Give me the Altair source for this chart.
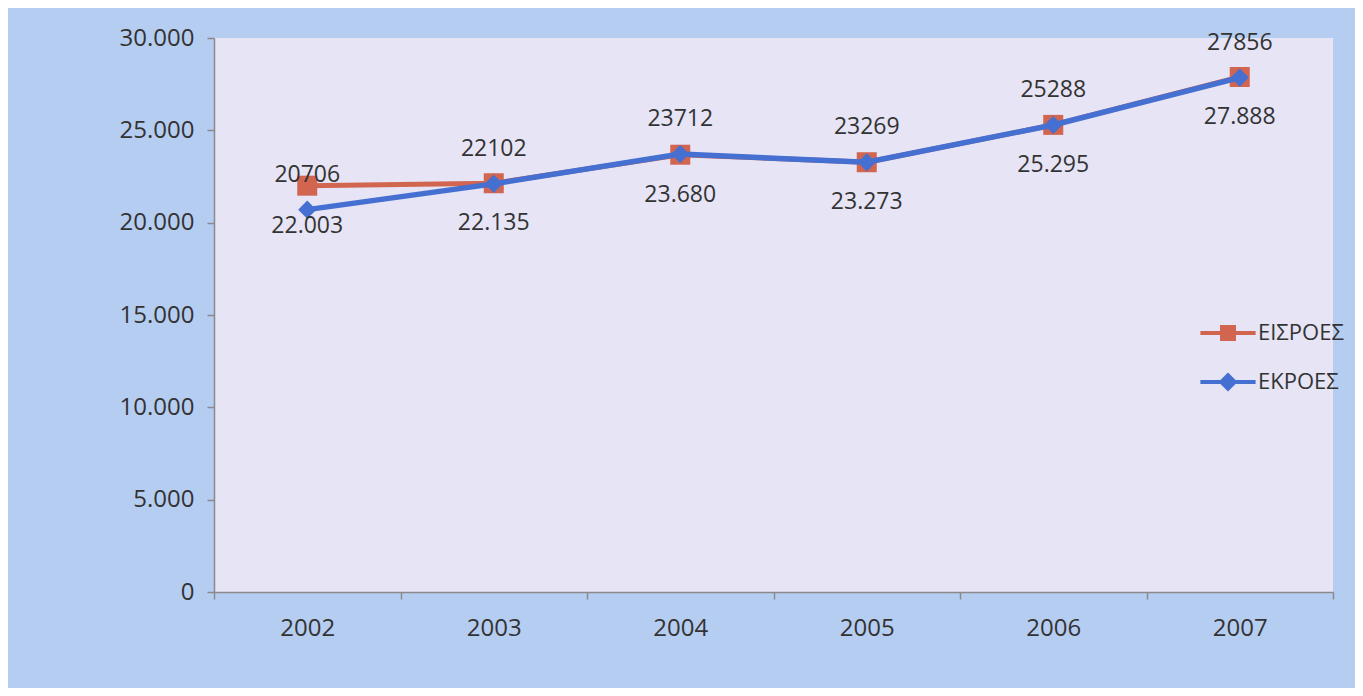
import altair as alt
import pandas as pd

years = ["2002", "2003", "2004", "2005", "2006", "2007"]
series_names = ["ΕΙΣΡΟΕΣ", "ΕΚΡΟΕΣ"]
eisroes = [22003, 22135, 23680, 23273, 25295, 27888]
ekroes = [20706, 22102, 23712, 23269, 25288, 27856]
y_ticks = [0, 5000, 10000, 15000, 20000, 25000, 30000]

RED = "#d2654f"
BLUE = "#4570d2"
FONT = "Open Sans"
TXT = "#333333"

rows = []
for y, a, b in zip(years, eisroes, ekroes):
    rows.append({"year": y, "series": series_names[0], "value": a})
    rows.append({"year": y, "series": series_names[1], "value": b})
df = pd.DataFrame(rows)

sq_path = "M-1.15,-0.083H1.15V0.083H-1.15Z M-0.333,-0.333H0.333V0.333H-0.333Z"
di_path = "M-1.15,-0.083H1.15V0.083H-1.15Z M0,-0.4L0.4,0L0,0.4L-0.4,0Z"

legend = alt.Legend(
    title=None,
    orient="none",
    legendX=990,
    legendY=271,
    padding=0,
    rowPadding=14,
    symbolSize=2304,
    symbolStrokeWidth=0,
    symbolType={"expr": f"datum.value == '{series_names[0]}' ? '{sq_path}' : '{di_path}'"},
    labelFont=FONT,
    labelFontSize=22,
    labelColor=TXT,
    labelOffset=6,
)

x = alt.X(
    "year:O",
    bandPosition=0.5,
    scale=alt.Scale(type="band", paddingInner=0, paddingOuter=0),
    axis=alt.Axis(
        title=None, labelAngle=0, tickBand="extent", grid=False,
        labelFont=FONT, labelFontSize=24, labelColor=TXT, labelPadding=17,
        tickSize=7, tickColor="#8a8a8a", domainColor="#8a8a8a", domainWidth=1.5,
        tickWidth=1.5,
    ),
)
y = alt.Y(
    "value:Q",
    scale=alt.Scale(domain=[0, 30000], nice=False),
    axis=alt.Axis(
        title=None, values=y_ticks, grid=False,
        labelExpr="replace(format(datum.value, ','), ',', '.')",
        labelFont=FONT, labelFontSize=24, labelColor=TXT, labelPadding=13,
        tickSize=7, tickColor="#8a8a8a", domainColor="#8a8a8a", domainWidth=1.5,
        tickWidth=1.5,
    ),
)
color = alt.Color(
    "series:N",
    scale=alt.Scale(domain=series_names, range=[RED, BLUE]),
    legend=legend,
)

base = alt.Chart(df)

def layers_for(name, shape, size, width):
    sub = base.transform_filter(alt.datum.series == name)
    line = sub.mark_line(strokeWidth=width).encode(x=x, y=y, color=color)
    pts = sub.mark_point(shape=shape, size=size, filled=True, opacity=1).encode(x=x, y=y, color=color)
    return [line, pts]

red_layers = layers_for(series_names[0], "square", 400, 5)
blue_layers = layers_for(series_names[1], "diamond", 330, 5.5)

lab_red = (
    base.transform_filter(alt.datum.series == series_names[0])
    .transform_calculate(lbl="replace(format(datum.value, ','), ',', '.')")
    .mark_text(font=FONT, fontSize=23, color=TXT, dy=40)
    .encode(x=x, y=y, text="lbl:N")
)
lab_blue = (
    base.transform_filter(alt.datum.series == series_names[1])
    .mark_text(font=FONT, fontSize=23, color=TXT, dy=-35)
    .encode(x=x, y=y, text=alt.Text("value:Q", format="d"))
)

chart = (
    alt.layer(*red_layers, *blue_layers, lab_red, lab_blue)
    .properties(
        width=1119,
        height=554,
        padding={"left": 206, "top": 30, "right": 22, "bottom": 96},
        autosize=alt.AutoSizeParams(type="none"),
    )
    .configure(background="#b6cdf2")
    .configure_view(fill="#e6e4f5", stroke=None)
)

chart.save("out.html", embed_options={"renderer": "svg", "actions": False})
